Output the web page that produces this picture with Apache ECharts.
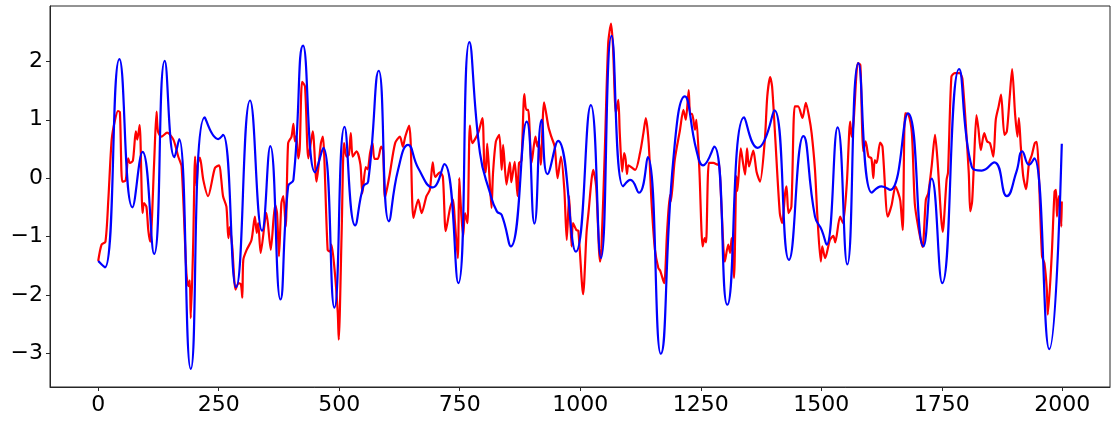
<!DOCTYPE html>
<html>
<head>
<meta charset="utf-8">
<script src="https://cdn.jsdelivr.net/npm/echarts@6/dist/echarts.min.js"></script>
<style>
html,body{margin:0;padding:0;background:#fff;}
#chart{width:1117px;height:425px;}
</style>
</head>
<body>
<div id="chart"></div>
<script>
// x tick labels and y tick labels
const xTicks = [0, 250, 500, 750, 1000, 1250, 1500, 1750, 2000];
const yTicks = [-3, -2, -1, 0, 1, 2];

// Blue series (smooth) key points
const blueX = [0,14,44,71,92,116,138,158,168,192,221,249,259,286,315,340,357,378,394,405,425,450,467,490,511,533,550,560,582,603,622,643,664,694,718,747,770,792,813,827,837,856,889,905,920,932,954,991,1022,1043,1065,1089,1104,1122,1140,1167,1193,1217,1241,1255,1278,1305,1340,1368,1383,1403,1433,1463,1487,1501,1511,1534,1554,1577,1605,1625,1643,1680,1712,1729,1751,1786,1812,1833,1859,1885,1905,1917,1931,1942,1973,1999];
const blueY = [-1.42,-1.53,2.04,-0.50,0.45,-1.30,2.01,0.36,0.67,-3.27,1.04,0.67,0.74,-1.87,1.33,-0.90,0.55,-2.08,-0.14,-0.03,2.27,0.10,0.52,-2.22,0.88,-0.81,-0.14,-0.06,1.84,-0.74,0.14,0.57,0.17,-0.16,0.24,-1.80,2.33,0.43,-0.26,-0.57,-0.63,-1.17,0.97,-0.78,1.00,0.07,0.64,-1.26,1.25,-1.37,2.44,-0.14,-0.03,-0.25,0.36,-3.01,0.31,1.40,0.48,0.22,0.54,-2.17,1.04,0.52,0.66,1.16,-1.40,0.72,-0.66,-0.89,-1.14,0.87,-1.48,1.97,-0.25,-0.14,-0.20,1.11,-1.17,-0.01,-1.80,1.87,0.20,0.13,0.27,-0.31,0.11,0.46,0.23,0.34,-2.93,0.59];

// Red series (noisy) key points
const redX = [0,7,15,21,28,35,41,45,50,57,62,66,72,78,81,86,92,95,100,104,108,116,121,124,131,143,156,166,173,183,187,190,192,197,201,204,207,211,218,228,242,251,255,259,266,270,273,278,285,291,296,299,301,308,318,325,329,332,337,349,358,367,371,375,380,384,389,394,401,405,408,411,415,418,423,429,436,445,453,462,466,476,481,484,491,497,499,505,510,515,520,524,528,536,544,548,555,559,564,569,573,580,587,591,595,604,616,626,632,637,645,648,654,664,671,681,688,694,699,709,715,721,730,736,740,746,749,751,757,761,766,771,776,788,797,801,804,807,812,816,819,825,832,837,840,847,854,857,864,870,873,878,884,888,892,899,907,911,914,918,925,934,940,947,953,960,967,972,977,982,985,992,996,1006,1013,1017,1027,1033,1041,1044,1051,1058,1064,1068,1074,1079,1082,1087,1091,1094,1097,1100,1114,1124,1131,1136,1142,1148,1155,1162,1166,1174,1180,1186,1188,1196,1207,1214,1219,1225,1228,1232,1238,1241,1247,1254,1258,1261,1267,1276,1286,1288,1293,1300,1307,1311,1314,1319,1324,1326,1333,1337,1342,1346,1350,1359,1366,1373,1383,1388,1394,1398,1404,1414,1419,1425,1428,1432,1438,1445,1452,1461,1468,1475,1480,1487,1492,1499,1502,1508,1518,1525,1529,1539,1545,1553,1560,1563,1567,1576,1581,1584,1587,1592,1598,1604,1608,1611,1615,1622,1627,1638,1646,1654,1660,1664,1669,1674,1681,1688,1694,1701,1710,1717,1722,1729,1736,1741,1752,1760,1763,1770,1777,1787,1793,1806,1809,1813,1817,1822,1826,1831,1838,1844,1850,1857,1862,1868,1873,1880,1885,1891,1896,1902,1907,1910,1914,1919,1925,1931,1937,1943,1947,1951,1958,1963,1968,1970,1978,1984,1987,1989,1993,1996,1998,1999];
const redY = [-1.42,-1.14,-1.09,-0.37,0.66,1.00,1.15,1.13,-0.06,-0.04,0.34,0.26,0.30,0.80,0.66,0.91,-0.60,-0.43,-0.49,-0.90,-1.09,0.26,1.14,0.80,0.71,0.78,0.66,0.37,0.20,-1.63,-1.85,-1.75,-2.40,-1.14,0.37,-0.14,0.26,0.35,-0.03,-0.31,0.17,0.22,0.00,-0.31,-0.49,-1.03,-0.84,-1.17,-1.91,-1.80,-1.82,-2.05,-1.40,-1.23,-1.06,-0.66,-0.94,-0.77,-1.28,-0.60,-1.23,-0.46,-0.60,-1.34,-0.43,-0.31,-0.83,0.60,0.71,0.93,0.63,0.72,0.34,0.50,1.65,1.57,0.34,0.80,-0.06,0.60,0.71,-1.23,-1.26,-1.14,-1.63,-2.31,-2.77,-0.94,0.60,0.37,0.40,0.77,0.37,0.46,0.23,-0.26,0.19,0.15,0.43,0.60,0.33,0.33,0.54,0.48,-0.34,0.03,0.60,0.71,0.54,0.71,0.90,0.66,-0.68,-0.37,-0.60,-0.31,-0.20,0.27,0.02,0.10,0.02,-0.91,-0.51,-0.37,-0.75,-1.37,0.00,-0.30,-1.00,-0.60,-0.77,0.90,0.60,0.77,1.03,0.20,0.10,0.59,-0.03,-0.51,0.08,0.63,0.74,0.14,0.57,-0.11,0.27,-0.07,0.28,-0.31,0.26,0.30,1.44,1.17,1.17,0.26,0.71,0.54,0.64,0.23,1.30,0.88,0.71,0.54,0.00,0.37,-0.20,-1.06,-0.31,-1.17,-0.77,-0.89,-0.90,-1.99,-0.94,-0.60,0.14,-0.14,-1.43,-1.20,0.48,2.31,2.65,2.25,1.11,1.34,0.77,0.11,0.43,0.33,0.07,0.22,0.14,0.43,0.77,1.03,0.60,-0.43,-1.23,-1.54,-1.59,-1.80,-0.94,-0.29,-0.40,0.31,0.83,1.17,1.00,1.51,1.10,1.10,0.83,1.00,0.17,-1.17,-1.03,-1.10,0.26,0.26,0.23,0.27,-0.49,-1.43,-1.14,-1.28,-1.03,-1.71,0.03,-0.22,0.51,0.30,0.06,0.51,0.20,0.47,0.10,-0.06,0.66,1.40,1.73,1.57,0.77,-0.60,-0.77,-0.26,-0.14,-0.60,-0.49,1.23,1.23,1.03,1.29,1.04,0.77,0.14,-0.66,-1.43,-1.17,-1.37,-1.06,-0.99,-1.10,-0.66,-0.77,-0.09,0.97,0.71,0.95,1.97,1.94,1.11,0.46,0.63,0.37,0.34,0.00,0.31,0.26,0.61,0.54,-0.66,-0.46,-0.14,-0.26,-0.39,-0.89,1.11,1.09,0.77,-0.43,-0.83,-1.18,-0.37,-0.26,0.20,0.74,0.32,-0.92,-0.03,0.10,1.74,1.80,1.80,1.69,0.09,-0.57,-0.40,0.31,1.08,0.85,0.48,0.77,0.63,0.60,0.37,1.00,1.23,1.43,0.74,0.80,1.40,1.87,1.11,0.71,1.03,0.54,0.03,-0.19,0.26,0.40,0.60,0.62,0.14,-1.34,-1.46,-1.91,-2.34,-1.34,-0.23,-0.20,-0.66,-0.31,-0.43,-0.83,-0.40];

const toPairs = (xs, ys) => xs.map((x, i) => [x, ys[i]]);
const font = 'DejaVu Sans';
const fmtX = v => String(v);
const fmtY = v => String(v).replace('-', '\u2212');

const chart = echarts.init(document.getElementById('chart'), null, {renderer: 'canvas'});
chart.setOption({
  animation: false,
  backgroundColor: '#ffffff',
  grid: {left: 50, right: 7, top: 6, bottom: 38, show: true, borderColor: '#262626', borderWidth: 1, backgroundColor: 'transparent'},
  xAxis: {
    type: 'value', min: -100, max: 2099,
    axisLine: {show: true, onZero: false, lineStyle: {color: '#262626', width: 1}},
    axisTick: {show: true, length: 4, inside: false, customValues: xTicks, lineStyle: {color: '#262626'}},
    axisLabel: {customValues: xTicks, fontFamily: font, fontSize: 22, color: '#000', margin: 7, formatter: fmtX},
    splitLine: {show: false}
  },
  yAxis: {
    type: 'value', min: -3.58, max: 2.95,
    axisLine: {show: true, onZero: false, lineStyle: {color: '#262626', width: 1}},
    axisTick: {show: true, length: 4, inside: false, customValues: yTicks, lineStyle: {color: '#262626'}},
    axisLabel: {customValues: yTicks, fontFamily: font, fontSize: 22, color: '#000', margin: 7, formatter: fmtY},
    splitLine: {show: false}
  },
  series: [
    {type: 'line', data: toPairs(redX, redY), showSymbol: false, symbol: 'none', smooth: 0.25,
     lineStyle: {color: '#ff0000', width: 2.2}, itemStyle: {color: '#ff0000'}, z: 2},
    {type: 'line', data: toPairs(blueX, blueY), showSymbol: false, symbol: 'none', smooth: 0.5,
     lineStyle: {color: '#0000ff', width: 2.2}, itemStyle: {color: '#0000ff'}, z: 3}
  ]
});
</script>
</body>
</html>
